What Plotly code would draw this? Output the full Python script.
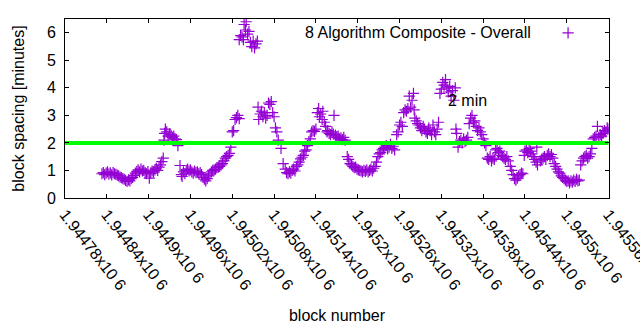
import plotly.graph_objects as go

BLOCK_BASE = 1944780

# block offsets (relative to BLOCK_BASE) and block spacing in minutes
block_offset = [
    53, 55, 57, 59, 61, 63, 65, 67, 69, 71, 73, 75,
    77, 79, 81, 83, 85, 87, 89, 91, 93,
    95, 97, 99, 101,
    103, 105, 107, 109, 111, 113, 115, 117, 119, 121, 123, 125, 127, 129, 131, 133,
    135, 137, 139, 141,
    142, 143, 144, 146, 148, 150, 152, 154, 156, 158, 160,
    162, 165, 167, 168,
    170, 172, 174, 176, 178, 180, 182, 184, 186, 188, 190, 192, 194, 196, 198, 200,
    202, 204, 206, 208, 210, 212, 214, 216, 218, 220, 222, 224, 226,
    228, 230, 232, 234, 236, 238, 240, 242, 244, 246, 248, 250,
    250, 252, 254, 256, 257, 259, 260, 262, 264, 266, 268, 270, 272, 274, 276,
    277, 278, 280, 282, 284, 286, 288, 290, 292, 294, 296, 298, 300, 302, 304,
    306, 310, 313, 316, 318, 320, 322, 324, 326, 328, 330,
    332, 334, 336, 338, 340, 342, 344, 346, 348, 350, 352, 354, 356, 358, 360,
    362, 364, 365, 367, 369, 370,
    372, 374, 376, 377, 379, 381, 383, 385, 386, 388,
    390, 392, 394, 396, 398, 400, 402, 405, 407,
    409, 411, 413, 415, 417, 419, 421, 423, 425, 427, 429, 431, 433, 435, 437, 439,
    441, 443, 445,
    447, 449, 451, 453, 455, 457, 459, 461, 463, 465, 467, 469, 471, 473,
    476, 478, 480, 482, 484,
    486, 488, 490, 492, 494, 496, 498, 500, 501,
    502, 504, 506, 508,
    510, 512, 514, 516, 518, 520, 522, 524, 526, 528, 530, 532, 534, 536,
    538, 540, 542, 544, 546, 548, 550, 552, 554, 556, 558, 560,
    561, 562, 564,
    566, 568, 570, 572, 574, 576, 578,
    580, 582, 584, 586, 588, 590, 592, 594,
    596, 598, 600, 602, 604,
    606, 608, 610, 612, 614, 616,
    618, 620, 622, 624,
    626, 628, 630, 632, 634, 636,
    639, 641, 643, 645, 647, 649, 651, 653, 655, 657,
    659, 660, 662, 664, 666, 668, 670,
    672, 674, 676, 677, 678,
    682, 684, 686, 688, 690, 692, 694, 696, 698, 700,
    702, 704, 706, 708, 710, 712, 714, 716, 718, 720, 722, 724,
    726, 728, 730, 732, 734, 736, 738,
    740, 742, 744, 746, 748, 750, 752, 754, 756,
    758, 760, 762, 764, 766, 768, 770, 772, 774, 776, 778, 779,
]

spacing_minutes = [
    0.88, 0.92, 0.85, 0.90, 0.95, 0.87, 0.91, 0.84, 0.92, 0.88, 0.86, 0.83,
    0.80, 0.76, 0.74, 0.70, 0.68, 0.64, 0.60, 0.66, 0.62,
    0.70, 0.75, 0.82, 0.90,
    0.97, 1.02, 0.95, 1.05, 0.98, 1.00, 0.92, 0.88, 0.96, 0.72, 0.90, 0.98, 0.95, 1.02, 1.08, 1.00,
    1.12, 1.20, 1.32, 1.45,
    2.10, 2.35, 2.50, 2.40, 2.25, 2.32, 2.28, 2.20, 2.25, 2.15, 2.12,
    1.90, 1.18, 0.85, 0.78,
    0.95, 0.88, 1.00, 1.05, 0.98, 1.02, 0.95, 0.90, 0.98, 0.92, 0.95, 0.88, 0.92, 0.85, 0.75, 0.68,
    0.62, 0.70, 0.80, 0.88, 0.95, 1.00, 1.02, 1.05, 1.10, 1.12, 1.15, 1.20, 1.25,
    1.35, 1.45, 1.50, 1.55, 1.62, 1.85, 2.40, 2.45, 2.85, 2.92, 3.00, 2.88,
    5.75, 5.90, 5.85, 5.75, 6.30, 6.10, 6.40, 5.95, 6.05, 5.65, 5.50, 5.70, 5.45, 5.60, 5.70,
    3.30, 2.85, 3.05, 3.15, 2.95, 3.10, 2.90, 3.00, 3.45, 3.40, 3.50, 3.10, 2.95, 2.55, 2.40,
    2.10, 1.80, 1.25, 1.05, 0.92, 0.88, 0.95, 0.90, 1.00, 1.05, 0.98,
    1.15, 1.20, 1.30, 1.42, 1.48, 1.55, 1.70, 1.75, 1.90, 2.05, 2.15, 2.40, 2.45, 2.42, 2.50,
    3.10, 3.25, 2.95, 3.05, 2.85, 3.15,
    2.75, 2.60, 2.40, 2.45, 2.35, 2.30, 2.40, 2.32, 3.00, 2.28,
    2.20, 2.25, 2.15, 2.18, 2.12, 2.20, 2.10, 1.50, 1.40,
    1.25, 1.20, 1.15, 1.10, 1.12, 1.05, 1.02, 1.00, 0.98, 0.95, 1.00, 0.97, 1.02, 0.95, 1.00, 1.05,
    0.98, 1.08, 1.15,
    1.30, 1.50, 1.60, 1.65, 1.75, 1.80, 1.85, 1.90, 1.78, 1.85, 1.95, 1.80, 1.88, 1.75,
    2.30, 2.40, 2.65, 2.75, 2.60,
    3.10, 3.20, 3.15, 3.25, 3.70, 3.30, 3.55, 3.80, 3.20,
    2.90, 2.80, 2.70, 2.65,
    2.55, 2.45, 2.60, 2.50, 2.40, 2.35, 2.55, 2.45, 2.30, 2.65, 2.40, 2.30, 2.50, 2.75,
    3.80, 3.95, 4.20, 4.10, 4.30, 4.00, 3.85, 4.05, 3.70, 3.90, 3.55, 4.00,
    2.50, 2.35, 1.85,
    2.05, 2.10, 2.00, 2.15, 2.05, 2.10, 2.20,
    2.70, 2.90, 3.00, 2.75, 2.80, 2.60, 2.45, 2.55,
    2.40, 2.30, 2.15, 2.00, 1.90,
    1.45, 1.40, 1.50, 1.35, 1.45, 1.40,
    1.75, 1.80, 1.65, 1.70,
    1.55, 1.50, 1.45, 1.40, 1.50, 1.35,
    1.15, 1.00, 0.85, 0.70, 0.65, 0.72, 0.80, 0.85, 0.90, 0.88,
    1.55, 1.70, 1.75, 1.65, 1.80, 1.70, 1.60,
    1.50, 1.40, 1.30, 1.85, 1.20,
    1.35, 1.40, 1.45, 1.50, 1.40, 1.55, 1.60, 1.50, 1.58, 1.45,
    1.25, 1.15, 1.05, 0.95, 0.90, 0.80, 0.75, 0.70, 0.65, 0.60, 0.62, 0.55,
    0.62, 0.58, 0.65, 0.60, 0.68, 0.62, 0.65,
    1.20, 1.35, 1.45, 1.50, 1.55, 1.45, 1.50, 1.60, 1.80,
    2.15, 2.20, 2.25, 2.60, 2.20, 2.30, 2.25, 2.35, 2.45, 2.40, 2.55, 2.50,
]

blocks = [BLOCK_BASE + o for o in block_offset]

x_tick_vals = [1944780 + 60 * i for i in range(14)]
x_tick_text = ["1.94478x10 6", "1.94484x10 6", "1.9449x10 6", "1.94496x10 6",
               "1.94502x10 6", "1.94508x10 6", "1.94514x10 6", "1.9452x10 6",
               "1.94526x10 6", "1.94532x10 6", "1.94538x10 6", "1.94544x10 6",
               "1.9455x10 6", "1.94556x10 6"]
y_ticks = [0, 1, 2, 3, 4, 5, 6]
target_minutes = 2
x_range = [1944780, 1945560.6]

FONT = "Liberation Sans, Arial, sans-serif"
FS = 16
PURPLE = "#9400d3"

fig = go.Figure()
fig.add_trace(go.Scatter(
    x=blocks, y=spacing_minutes, mode="markers", name="",
    marker=dict(symbol="cross-thin", size=8, color=PURPLE,
                line=dict(color=PURPLE, width=1.2)),
    showlegend=True,
))
fig.add_trace(go.Scatter(
    x=[1944780, 1945560], y=[target_minutes, target_minutes], mode="lines",
    line=dict(color="#00ff00", width=4), showlegend=False, hoverinfo="skip",
))

fig.add_annotation(
    x=0.860, y=0.927, xref="paper", yref="paper", xanchor="right", yanchor="middle",
    text="8 Algorithm Composite - Overall", showarrow=False,
    font=dict(family=FONT, size=FS, color="#000000"),
)
fig.add_annotation(
    x=1945327, y=3.53, xanchor="left", yanchor="middle",
    text="2 min", showarrow=False,
    font=dict(family=FONT, size=FS, color="#000000"),
)

axis_common = dict(
    showgrid=False, zeroline=False, showline=True, linecolor="#000000", linewidth=1,
    mirror="allticks", ticks="inside", ticklen=4, tickcolor="#000000", tickwidth=1,
    tickfont=dict(family=FONT, size=FS, color="#000000"), automargin=False,
)

fig.update_layout(
    width=640, height=330,
    margin=dict(l=65, r=31, t=19, b=132),
    paper_bgcolor="#ffffff", plot_bgcolor="#ffffff",
    font=dict(family=FONT, size=FS, color="#000000"),
    xaxis=dict(
        range=x_range, tickmode="array", tickvals=x_tick_vals, ticktext=x_tick_text,
        tickangle=52, ticklabeloverflow="allow",
        title=dict(text="block number", standoff=17,
                   font=dict(family=FONT, size=FS)),
        **axis_common,
    ),
    yaxis=dict(
        range=[0, 6.5], tickmode="array", tickvals=y_ticks,
        title=dict(text="block spacing [minutes]", standoff=18,
                   font=dict(family=FONT, size=FS)),
        ticklabelstandoff=5,
        **axis_common,
    ),
    showlegend=True,
    legend=dict(x=0.888, y=0.922, xanchor="left", yanchor="middle",
                bgcolor="rgba(0,0,0,0)", font=dict(family=FONT, size=FS)),
)

fig.write_html("out.html")
